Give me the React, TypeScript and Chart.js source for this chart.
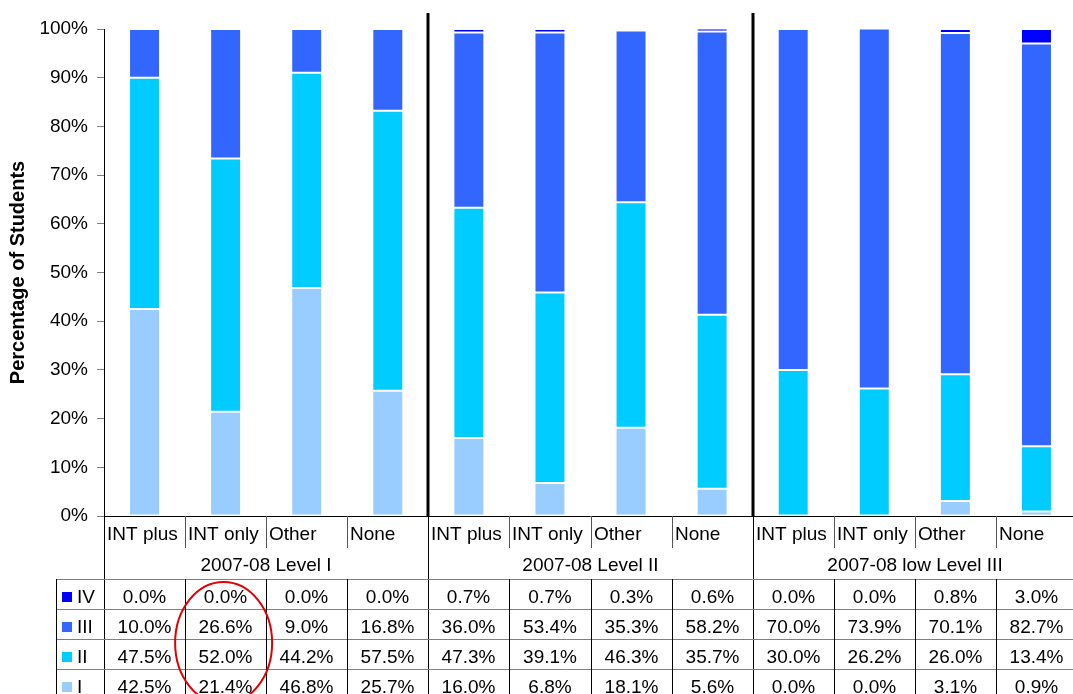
import React, { useEffect, useRef } from 'react';
import { Chart, registerables } from 'chart.js';

Chart.register(...registerables);

const categories = [
  'INT plus', 'INT only', 'Other', 'None',
  'INT plus', 'INT only', 'Other', 'None',
  'INT plus', 'INT only', 'Other', 'None',
];
const groups = ['2007-08 Level I', '2007-08 Level II', '2007-08 low Level III'];
const categoriesPerGroup = 4;

const levelI = [42.5, 21.4, 46.8, 25.7, 16.0, 6.8, 18.1, 5.6, 0.0, 0.0, 3.1, 0.9];
const levelII = [47.5, 52.0, 44.2, 57.5, 47.3, 39.1, 46.3, 35.7, 30.0, 26.2, 26.0, 13.4];
const levelIII = [10.0, 26.6, 9.0, 16.8, 36.0, 53.4, 35.3, 58.2, 70.0, 73.9, 70.1, 82.7];
const levelIV = [0.0, 0.0, 0.0, 0.0, 0.7, 0.7, 0.3, 0.6, 0.0, 0.0, 0.8, 3.0];

const seriesNames = ['I', 'II', 'III', 'IV'];
const seriesValues = [levelI, levelII, levelIII, levelIV];
const seriesColors = ['#99CCFF', '#00CCFF', '#3366FF', '#0000FF'];

const yTickStep = 10;
const yMax = 100;
const highlightedColumn = 1;

const FONT = "'Liberation Sans', Arial, Helvetica, sans-serif";

const tablePlugin = {
  id: 'dataTable',
  afterDraw(chart: any) {
    const ctx: CanvasRenderingContext2D = chart.ctx;
    const xs = chart.scales.x;
    const ys = chart.scales.y;
    const n = categories.length;
    const step = xs.getPixelForValue(1) - xs.getPixelForValue(0);
    const edge = (i: number) => Math.round(xs.getPixelForValue(0) - step / 2 + i * step);
    const bottom = Math.round(ys.getPixelForValue(0));
    const plotTop = Math.round(ys.getPixelForValue(yMax));
    const left = edge(0);
    const right = edge(n);
    const catRowBottom = bottom + 32;
    const tableTop = bottom + 63;
    const rowH = 30;
    const tableBottom = chart.height;
    const legendLeft = 56;

    ctx.save();
    // x axis line
    ctx.strokeStyle = '#000';
    ctx.lineWidth = 1;
    ctx.beginPath();
    ctx.moveTo(left, bottom + 0.5);
    ctx.lineTo(right, bottom + 0.5);
    ctx.stroke();

    // y axis line extension through table
    ctx.beginPath();
    ctx.moveTo(left + 0.5, bottom);
    ctx.lineTo(left + 0.5, tableBottom);
    ctx.stroke();

    // group separators (thick in plot, thin in table)
    for (let g = 1; g <= groups.length; g++) {
      const x = edge(g * categoriesPerGroup);
      if (g < groups.length) {
        ctx.lineWidth = 3;
        ctx.strokeStyle = '#000';
        ctx.beginPath();
        ctx.moveTo(x, plotTop - 16);
        ctx.lineTo(x, bottom);
        ctx.stroke();
      }
      ctx.lineWidth = 1;
      ctx.strokeStyle = '#000';
      ctx.beginPath();
      ctx.moveTo(x + 0.5, bottom);
      ctx.lineTo(x + 0.5, tableBottom);
      ctx.stroke();
    }

    // short separators in category label row
    ctx.lineWidth = 1;
    ctx.strokeStyle = '#555';
    for (let i = 1; i < n; i++) {
      if (i % categoriesPerGroup === 0) continue;
      const x = edge(i) + 0.5;
      ctx.beginPath();
      ctx.moveTo(x, bottom);
      ctx.lineTo(x, catRowBottom);
      ctx.stroke();
    }

    // horizontal table lines
    ctx.strokeStyle = '#808080';
    for (let r = 0; r < seriesNames.length; r++) {
      const yy = tableTop + r * rowH + 0.5;
      ctx.beginPath();
      ctx.moveTo(legendLeft, yy);
      ctx.lineTo(right, yy);
      ctx.stroke();
    }

    // vertical lines in data rows
    ctx.strokeStyle = '#000';
    ctx.beginPath();
    ctx.moveTo(legendLeft + 0.5, tableTop);
    ctx.lineTo(legendLeft + 0.5, tableBottom);
    ctx.stroke();
    for (let i = 1; i <= n; i++) {
      if (i % categoriesPerGroup === 0) continue;
      const x = edge(i) + 0.5;
      ctx.beginPath();
      ctx.moveTo(x, tableTop);
      ctx.lineTo(x, tableBottom);
      ctx.stroke();
    }

    // texts
    ctx.fillStyle = '#000';
    ctx.font = `19px ${FONT}`;
    ctx.textBaseline = 'alphabetic';
    ctx.textAlign = 'left';
    for (let i = 0; i < n; i++) {
      ctx.fillText(categories[i], edge(i) + 3, bottom + 24);
    }
    ctx.textAlign = 'center';
    for (let g = 0; g < groups.length; g++) {
      const cx = (edge(g * categoriesPerGroup) + edge((g + 1) * categoriesPerGroup)) / 2;
      ctx.fillText(groups[g], cx, bottom + 55);
    }

    // data rows: IV, III, II, I from top
    for (let r = 0; r < seriesNames.length; r++) {
      const s = seriesNames.length - 1 - r;
      const rowTop = tableTop + r * rowH;
      ctx.fillStyle = seriesColors[s];
      ctx.fillRect(62, rowTop + 13, 10, 10);
      ctx.fillStyle = '#000';
      ctx.textAlign = 'left';
      ctx.fillText(seriesNames[s], 77, rowTop + 24);
      ctx.textAlign = 'center';
      for (let i = 0; i < n; i++) {
        const cx = (edge(i) + edge(i + 1)) / 2;
        ctx.fillText(seriesValues[s][i].toFixed(1) + '%', cx, rowTop + 24);
      }
    }

    // red highlight ellipse
    const ex = xs.getPixelForValue(highlightedColumn) - 2;
    ctx.strokeStyle = '#E00000';
    ctx.lineWidth = 2;
    ctx.beginPath();
    ctx.ellipse(ex, tableTop + 64, 48.5, 61, 0, 0, Math.PI * 2);
    ctx.stroke();
    ctx.restore();
  },
};

export default function App() {
  const canvasRef = useRef<HTMLCanvasElement | null>(null);

  useEffect(() => {
    if (!canvasRef.current) return;
    const chart = new Chart(canvasRef.current, {
      type: 'bar',
      data: {
        labels: categories,
        datasets: seriesNames.map((name, s) => ({
          label: name,
          data: seriesValues[s],
          backgroundColor: seriesColors[s],
          borderColor: 'rgba(255,255,255,0.6)',
          borderWidth: 1,
          borderSkipped: false,
          barPercentage: 0.382,
          categoryPercentage: 1,
        })),
      },
      options: {
        responsive: false,
        animation: false,
        devicePixelRatio: 1,
        layout: { padding: { top: 29, left: 0, right: 13, bottom: 204 } },
        plugins: { legend: { display: false }, tooltip: { enabled: false } },
        scales: {
          x: { stacked: true, display: false },
          y: {
            stacked: true,
            min: 0,
            max: yMax,
            afterFit: (s: any) => {
              s.width = 104;
            },
            ticks: {
              stepSize: yTickStep,
              callback: (v: any) => v + '%',
              color: '#000',
              font: { family: FONT, size: 19 },
              padding: 9,
            },
            grid: { drawOnChartArea: false, drawTicks: true, tickLength: 7, color: '#808080' },
            border: { display: true, color: '#000', width: 1 },
            title: {
              display: true,
              text: 'Percentage of Students',
              color: '#000',
              font: { family: FONT, size: 20, weight: 'bold' },
              padding: { top: 6, bottom: 0 },
            },
          },
        },
      } as any,
      plugins: [tablePlugin],
    });
    return () => chart.destroy();
  }, []);

  return (
    <div style={{ position: 'fixed', left: 0, top: 0, width: '100vw', height: '100vh', overflow: 'hidden', background: '#fff' }}>
      <canvas ref={canvasRef} width={1090} height={720} style={{ position: 'absolute', left: 0, top: 0 }} />
    </div>
  );
}
